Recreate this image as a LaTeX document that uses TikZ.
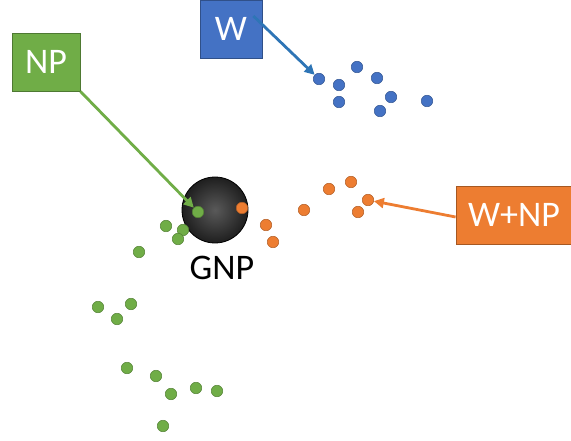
\documentclass[tikz,border=0pt]{standalone}
\usepackage{fontspec}
\setmainfont{Carlito}
\usetikzlibrary{arrows.meta}

\definecolor{npgreen}{HTML}{70AD47}
\definecolor{wblue}{HTML}{4472C4}
\definecolor{wnporange}{HTML}{ED7D31}
\definecolor{arrblue}{HTML}{2E75B6}

\tikzset{
    labelbox/.style={draw=#1!70!black, fill=#1, line width=0.8pt, text=white,
        font=\fontsize{36}{40}\selectfont, minimum height=58pt, inner sep=2pt},
    pnt/.style={draw=#1!75!black, fill=#1, line width=0.5pt,
        circle, minimum size=11.5pt, inner sep=0pt},
    pointer/.style={draw=#1, line width=2.8pt,
        -{Triangle[length=10pt,width=10pt]}}
}

\begin{document}
\begin{tikzpicture}[x=1pt, y=-1pt]

\useasboundingbox (0,0) rectangle (571,441);

% ============================================
% 1. GNP
% ============================================
\path[draw=black, line width=0.8pt, inner color=black!65, outer color=black!88]
    (215,210) circle[radius=33];
\node[font=\fontsize{36}{40}\selectfont] (gnp) at (222,268) {GNP};

% ============================================
% 2. PUNKTY W
% ============================================
\foreach \x/\y [count=\i] in {319/79, 339/85, 357/67, 377/78, 339/102,
                              391/97, 380/111, 427/101}
    \node[pnt=wblue] (b\i) at (\x,\y) {};

% ============================================
% 3. PUNKTY NP
% ============================================
\node[pnt=npgreen] (g0) at (198,212) {};
\foreach \x/\y [count=\i] in {166/226, 183/230, 178/239, 139/252,
                              98/307, 131/304, 117/319, 127/368, 156/376,
                              171/394, 196/388, 217/391, 163/426}
    \node[pnt=npgreen] (g\i) at (\x,\y) {};

% ============================================
% 4. PUNKTY W+NP
% ============================================
\foreach \x/\y [count=\i] in {242/208, 266/225, 273/242, 304/210,
                              329/189, 351/182, 368/200, 358/212}
    \node[pnt=wnporange] (o\i) at (\x,\y) {};

% ============================================
% 5. ETYKIETY
% ============================================
\node[labelbox=npgreen, minimum width=68pt] (np) at (46,62) {NP};
\node[labelbox=wblue, minimum width=62pt] (w) at (231,29) {W};
\node[labelbox=wnporange, minimum width=116pt] (wnp) at (514,215) {W+NP};

% Strzalki
\draw[pointer=npgreen] (np.south east) -- (g0);
\draw[pointer=arrblue] ([xshift=-9pt,yshift=13pt]w.east) -- (b1);
\draw[pointer=wnporange] ([yshift=-2pt]wnp.west) -- (o7);

\end{tikzpicture}
\end{document}
